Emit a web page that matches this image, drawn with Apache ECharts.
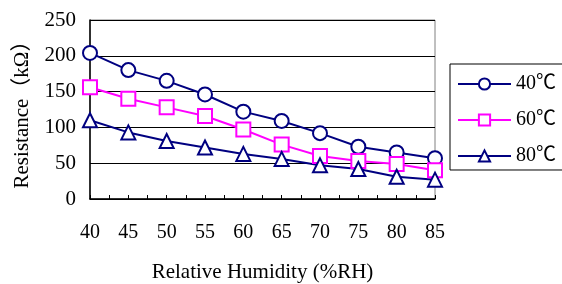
<!DOCTYPE html>
<html>
<head>
<meta charset="utf-8">
<script src="https://cdn.jsdelivr.net/npm/echarts@6/dist/echarts.min.js"></script>
<style>
  html, body { margin: 0; padding: 0; background: #fff; }
  #chart { width: 562px; height: 284px; }
</style>
</head>
<body>
<div id="chart"></div>
<script>
  // 相对湿度 (%RH)
  var humidity = [40, 45, 50, 55, 60, 65, 70, 75, 80, 85];
  // 各温度下的电阻 (kΩ)
  var r40 = [204, 180, 165, 146, 122, 109, 92, 73, 65, 57];
  var r60 = [156, 140, 128, 116, 97, 76, 60, 53, 49, 40];
  var r80 = [110, 93, 81, 72, 63, 56, 47, 42, 31, 27];
  var seriesNames = ['40℃', '60℃', '80℃'];

  var font = '"Liberation Serif", "Noto Sans CJK TC", serif';
  var navy = '#000080';
  var magenta = '#FF00FF';

  function pairs(vals) {
    return humidity.map(function (h, i) { return [h, vals[i]]; });
  }

  function makeSeries(name, vals, color, symbol) {
    return {
      name: name,
      type: 'line',
      data: pairs(vals),
      symbol: symbol,
      symbolSize: 14,
      showAllSymbol: true,
      lineStyle: { color: color, width: 2 },
      itemStyle: { color: '#fff', borderColor: color, borderWidth: 2 },
      emphasis: { disabled: true },
      z: 3
    };
  }

  var myChart = echarts.init(document.getElementById('chart'));
  myChart.setOption({
    animation: false,
    grid: {
      left: 90, right: 127, top: 20, bottom: 85,
      outerBoundsMode: 'none',
      show: true, borderColor: '#808080', borderWidth: 1
    },
    legend: {
      orient: 'vertical',
      left: 450, top: 64,
      padding: [10, 30, 4, 7],
      borderColor: '#000', borderWidth: 1,
      itemWidth: 53, itemHeight: 14, itemGap: 16,
      textStyle: { fontFamily: font, fontSize: 20, color: '#000' },
      data: seriesNames
    },
    xAxis: {
      type: 'value',
      min: 40, max: 85, interval: 5,
      name: 'Relative Humidity (%RH)',
      nameLocation: 'middle', nameGap: 63,
      nameTextStyle: { fontFamily: font, fontSize: 21, color: '#000' },
      axisLine: { lineStyle: { color: '#000', width: 1.5 } },
      axisTick: { inside: true, length: 4, lineStyle: { color: '#000' } },
      minorTick: { show: true, splitNumber: 2, length: 4, lineStyle: { color: '#000' } },
      splitLine: { show: false },
      axisLabel: { fontFamily: font, fontSize: 20, color: '#000', margin: 24 }
    },
    yAxis: {
      type: 'value',
      min: 0, max: 250, interval: 50,
      name: 'Resistance（kΩ）',
      nameLocation: 'middle', nameGap: 57, nameRotate: 90,
      nameTextStyle: { fontFamily: font, fontSize: 21, color: '#000' },
      axisLine: { show: true, lineStyle: { color: '#000', width: 1.5 } },
      axisTick: { show: false },
      splitLine: { lineStyle: { color: '#000', width: 1 } },
      axisLabel: { fontFamily: font, fontSize: 21, color: '#000', margin: 14, padding: [5, 0, 0, 0] }
    },
    series: [
      makeSeries(seriesNames[0], r40, navy, 'circle'),
      makeSeries(seriesNames[1], r60, magenta, 'rect'),
      makeSeries(seriesNames[2], r80, navy, 'triangle')
    ]
  });
</script>
</body>
</html>
